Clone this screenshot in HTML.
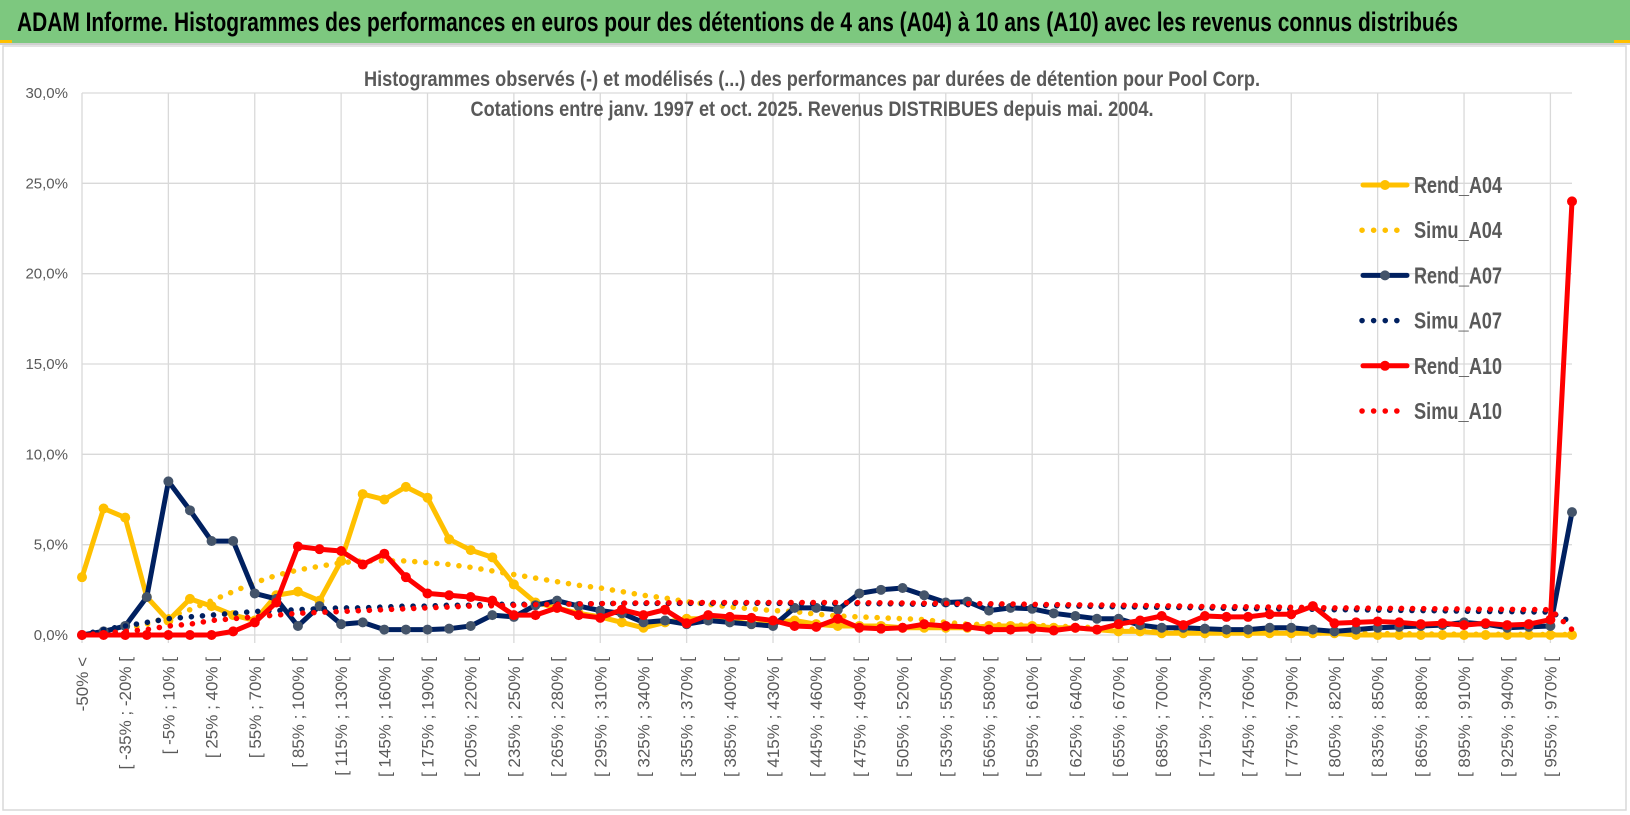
<!DOCTYPE html>
<html><head><meta charset="utf-8"><style>
html,body{margin:0;padding:0;background:#fff;}
svg{display:block;}
text{font-family:"Liberation Sans Narrow","Liberation Sans",sans-serif;}
</style></head><body>
<svg id="chart" width="1630" height="815" viewBox="0 0 1630 815" xmlns="http://www.w3.org/2000/svg">
  <rect x="0" y="0" width="1630" height="815" fill="#fff"/>
  <rect x="0" y="0" width="1630" height="43" fill="#7DC87F"/>
  <rect x="0" y="40" width="12" height="3" fill="#FFC000"/>
  <rect x="1614" y="40" width="16" height="3" fill="#FFC000"/>
  <line x1="0" y1="44" x2="1630" y2="44" stroke="#cfcfcf" stroke-width="2"/>
  <text x="17" y="31" font-size="27" font-weight="bold" fill="#000" textLength="1441" lengthAdjust="spacingAndGlyphs">ADAM Informe. Histogrammes des performances en euros pour des détentions de 4 ans (A04) à 10 ans (A10) avec les revenus connus distribués</text>
  <rect x="3" y="46" width="1623" height="764" fill="none" stroke="#d9d9d9" stroke-width="1.5"/>
  <g id="grid"></g>
  <g id="yaxis"></g>
  <g id="xaxis"></g>
  <text x="812" y="86" font-size="21" font-weight="bold" fill="#595959" text-anchor="middle" textLength="896" lengthAdjust="spacingAndGlyphs">Histogrammes observés (-) et modélisés (...) des performances par durées de détention pour Pool Corp.</text>
  <text x="812" y="116" font-size="21" font-weight="bold" fill="#595959" text-anchor="middle" textLength="683" lengthAdjust="spacingAndGlyphs">Cotations entre janv. 1997 et oct. 2025.  Revenus DISTRIBUES depuis mai. 2004.</text>
  <g id="series"></g>
  <g id="legend"></g>
</svg>
<script>
const rendA04 = [3.2,7.0,6.5,2.1,0.8,2.0,1.6,1.1,0.8,2.2,
 2.4,1.9,4.1,7.8,7.5,8.2,7.6,5.3,4.7,4.3,
 2.8,1.8,1.5,1.2,1.0,0.7,0.4,0.7,0.9,0.9,
 0.8,0.6,0.7,0.8,0.6,0.5,0.5,0.5,0.4,0.4,
 0.4,0.4,0.5,0.5,0.5,0.4,0.4,0.3,0.2,0.2,
 0.1,0.1,0.1,0.1,0.1,0.1,0.1,0.1,0.1,0.0,
 0,0,0,0,0,0,0,0,0,0];
const simuA04 = [0,0.1,0.3,0.6,1.0,1.4,1.9,2.4,2.9,3.3,
 3.6,3.8,4.0,4.1,4.1,4.1,4.0,3.9,3.75,3.55,
 3.35,3.15,2.95,2.75,2.6,2.4,2.2,2.05,1.85,1.7,
 1.55,1.45,1.35,1.3,1.15,1.05,1.0,0.95,0.9,0.85,
 0.7,0.6,0.58,0.56,0.55,0.5,0.45,0.4,0.35,0.3,
 0.28,0.25,0.22,0.2,0.18,0.16,0.14,0.12,0.1,0.09,
 0.08,0.07,0.06,0.05,0.05,0.04,0.04,0.03,0.03,0.03];
const rendA07 = [0,0.2,0.5,2.1,8.5,6.9,5.2,5.2,2.3,2.0,
 0.5,1.6,0.6,0.7,0.3,0.3,0.3,0.35,0.5,1.1,
 1.0,1.65,1.9,1.6,1.35,1.2,0.7,0.8,0.6,0.8,
 0.7,0.6,0.5,1.5,1.5,1.4,2.3,2.5,2.6,2.2,
 1.8,1.85,1.35,1.5,1.45,1.2,1.05,0.9,0.9,0.55,
 0.4,0.4,0.35,0.3,0.3,0.4,0.4,0.3,0.2,0.3,
 0.4,0.45,0.5,0.55,0.7,0.6,0.4,0.45,0.5,6.8];
const simuA07 = [0,0.3,0.5,0.7,0.9,1.0,1.1,1.2,1.3,1.35,
 1.4,1.45,1.5,1.5,1.55,1.6,1.6,1.65,1.65,1.7,
 1.7,1.7,1.72,1.72,1.74,1.75,1.75,1.75,1.75,1.76,
 1.76,1.76,1.75,1.75,1.75,1.74,1.74,1.73,1.72,1.7,
 1.7,1.68,1.66,1.65,1.64,1.62,1.6,1.58,1.56,1.55,
 1.53,1.52,1.5,1.48,1.46,1.45,1.44,1.42,1.4,1.4,
 1.38,1.36,1.35,1.34,1.32,1.3,1.3,1.28,1.27,0.7];
const rendA10 = [0,0,0,0,0,0,0,0.2,0.7,1.8,
 4.9,4.75,4.65,3.9,4.5,3.2,2.3,2.2,2.1,1.9,
 1.1,1.1,1.5,1.1,0.95,1.4,1.1,1.4,0.65,1.1,
 1.0,0.95,0.8,0.5,0.45,0.9,0.4,0.35,0.4,0.6,
 0.5,0.45,0.3,0.3,0.35,0.25,0.4,0.3,0.6,0.8,
 1.05,0.55,1.05,1.0,1.0,1.15,1.15,1.6,0.65,0.7,
 0.75,0.7,0.6,0.65,0.55,0.65,0.55,0.6,0.85,24.0];
const simuA10 = [0,0.1,0.2,0.3,0.5,0.6,0.8,0.9,1.0,1.1,
 1.2,1.25,1.3,1.35,1.4,1.45,1.5,1.55,1.6,1.62,
 1.65,1.68,1.7,1.72,1.74,1.76,1.78,1.78,1.8,1.8,
 1.8,1.8,1.8,1.8,1.8,1.8,1.79,1.78,1.77,1.76,
 1.75,1.74,1.73,1.72,1.7,1.68,1.67,1.66,1.65,1.64,
 1.62,1.6,1.58,1.57,1.56,1.55,1.54,1.52,1.5,1.5,
 1.48,1.47,1.46,1.45,1.44,1.43,1.42,1.41,1.4,0.3];
const yTicks = [0,5,10,15,20,25,30];
const yTickLabels = ["0,0%","5,0%","10,0%","15,0%","20,0%","25,0%","30,0%"];
const binStart = -50, binWidth = 15, binCount = 70;
const categories = [];
for (let k = 0; k < binCount; k++) {
  if (k === 0) categories.push("-50% <");
  else { const a = binStart + binWidth*(k-1); categories.push("[ " + a + "% ; " + (a+binWidth) + "% ["); }
}

const NS = "http://www.w3.org/2000/svg";
const X0 = 82, X1 = 1572, Y0 = 635, Y1 = 93;
const yMax = 30;
function xPos(i){ return X0 + (X1 - X0) * i / (binCount - 1); }
function yPos(v){ return Y0 - (Y0 - Y1) * v / yMax; }
function mk(tag, attrs, parent){ const e = document.createElementNS(NS, tag); for (const k in attrs) e.setAttribute(k, attrs[k]); parent.appendChild(e); return e; }

const grid = document.getElementById('grid');
yTicks.forEach((t, i) => {
  const l = mk('line', {x1: X0, x2: X1, y1: yPos(t), y2: yPos(t), stroke: '#d9d9d9', 'stroke-width': 1.3}, grid);
  
  
});
for (let i = 0; i < binCount; i += 4) {
  const l = mk('line', {x1: xPos(i), x2: xPos(i), y1: Y1, y2: Y0 + 8, stroke: '#d9d9d9', 'stroke-width': 1.3}, grid);
  
  
}
const yax = document.getElementById('yaxis');
yTicks.forEach((t, i) => {
  const tx = mk('text', {x: 68, y: yPos(t) + 5, 'font-size': 15, fill: '#595959', 'text-anchor': 'end'}, yax);
  tx.textContent = yTickLabels[i];
  
  
});
const xax = document.getElementById('xaxis');
categories.forEach((c, i) => {
  if (i % 2 !== 0 || i > 68) return;
  const x = xPos(i) + 6, y = 657;
  const tx = mk('text', {x: x, y: y, 'font-size': 17, fill: '#595959', 'text-anchor': 'end', transform: 'rotate(-90 ' + x + ' ' + y + ')', 'font-family': '"Liberation Sans", sans-serif'}, xax);
  tx.textContent = c;
  
  
});

const seriesG = document.getElementById('series');
function pts(arr){ return arr.map((v, i) => xPos(i).toFixed(1) + ',' + yPos(v).toFixed(1)).join(' '); }
function solid(arr, color, mcolor, name){
  const g = mk('g', {}, seriesG);
  
  
  const p = mk('polyline', {points: pts(arr), fill: 'none', stroke: color, 'stroke-width': 5, 'stroke-linejoin': 'round', 'stroke-linecap': 'round'}, g);
  
  
  arr.forEach((v, i) => {
    const m = mk('circle', {cx: xPos(i), cy: yPos(v), r: 5, fill: mcolor}, g);
    
    
  });
}
function dotted(arr, color, name){
  const p = mk('polyline', {points: pts(arr), fill: 'none', stroke: color, 'stroke-width': 5.5, 'stroke-linecap': 'round', 'stroke-dasharray': '0.1 11'}, seriesG);
  
  
}
solid(rendA04, '#FFC000', '#FFC000', 'rend-a04');
dotted(simuA04, '#FFC000', 'simu-a04');
solid(rendA07, '#002060', '#44546A', 'rend-a07');
dotted(simuA07, '#002060', 'simu-a07');
solid(rendA10, '#FF0000', '#FF0000', 'rend-a10');
dotted(simuA10, '#FF0000', 'simu-a10');

const legendNames = ["Rend_A04","Simu_A04","Rend_A07","Simu_A07","Rend_A10","Simu_A10"];
const legendColors = ['#FFC000','#FFC000','#002060','#002060','#FF0000','#FF0000'];
const markerColors = ['#FFC000','#FFC000','#44546A','#44546A','#FF0000','#FF0000'];
const lg = document.getElementById('legend');
legendNames.forEach((n, i) => {
  const y = 185 + i * 45.2;
  const g = mk('g', {}, lg);
  
  
  if (i % 2 === 0) {
    mk('line', {x1: 1363, x2: 1407, y1: y, y2: y, stroke: legendColors[i], 'stroke-width': 5, 'stroke-linecap': 'round'}, g);
    mk('circle', {cx: 1385, cy: y, r: 5, fill: markerColors[i]}, g);
  } else {
    mk('line', {x1: 1362, x2: 1408, y1: y, y2: y, stroke: legendColors[i], 'stroke-width': 5.5, 'stroke-linecap': 'round', 'stroke-dasharray': '0.1 11.5'}, g);
  }
  const t = mk('text', {x: 1414, y: y + 8, 'font-size': 23, 'font-weight': 'bold', fill: '#595959', textLength: 88, lengthAdjust: 'spacingAndGlyphs'}, g);
  t.textContent = n;
});
</script>
</body></html>
